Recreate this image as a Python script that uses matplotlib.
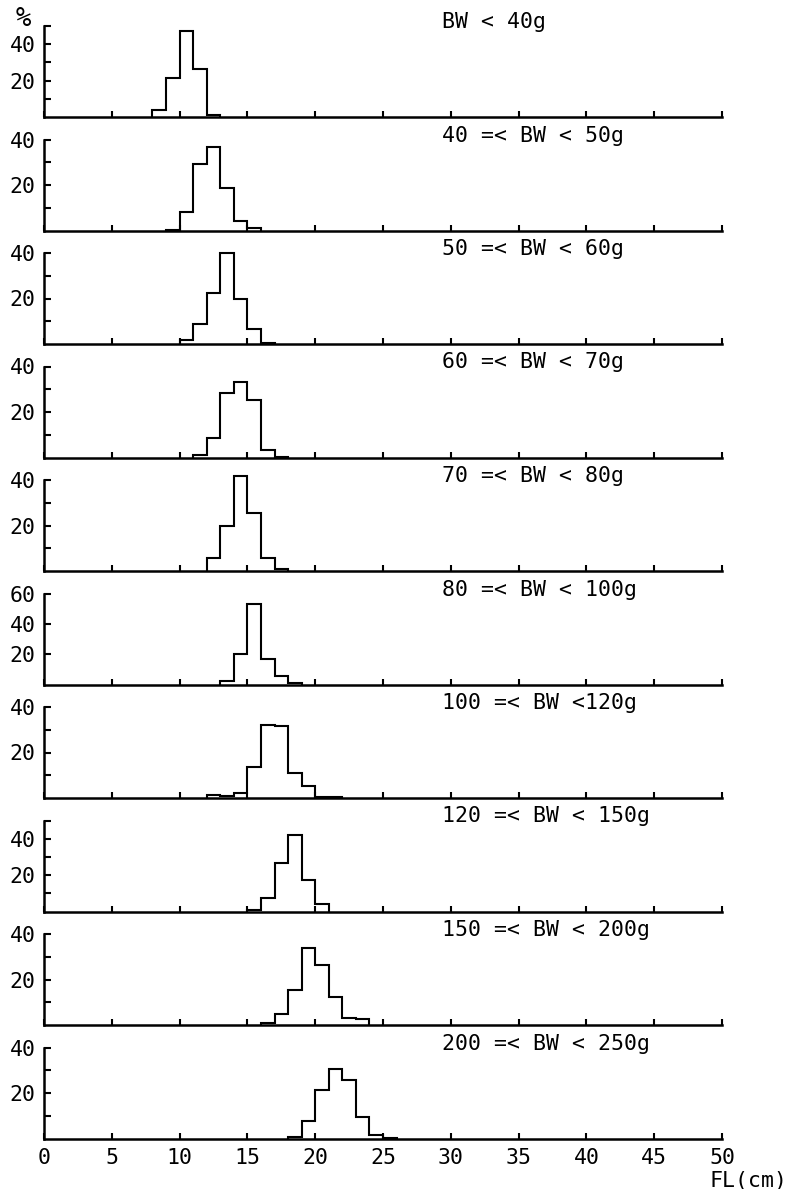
import numpy as np
import matplotlib.pyplot as plt

plt.rcParams['font.family'] = ['DejaVu Sans Mono']

# weight classes, label shown above each panel
titles = ['BW < 40g', '40 =< BW < 50g', '50 =< BW < 60g', '60 =< BW < 70g',
          '70 =< BW < 80g', '80 =< BW < 100g', '100 =< BW <120g',
          '120 =< BW < 150g', '150 =< BW < 200g', '200 =< BW < 250g']

# left edge (cm) of the first non-empty 1 cm class in each panel
first_bin = [8, 9, 10, 11, 12, 13, 12, 15, 16, 18]

# percentage frequency per 1 cm fork-length class
pct_lt40 = [4.1, 21.7, 47.4, 26.3, 0.9]
pct_40_50 = [0.3, 8.3, 29.3, 36.6, 18.7, 4.1, 1.3]
pct_50_60 = [1.9, 8.6, 22.6, 40.0, 20.0, 6.7, 0.6]
pct_60_70 = [1.2, 8.6, 28.2, 33.4, 25.4, 3.1, 0.3]
pct_70_80 = [5.9, 19.9, 41.8, 25.6, 5.9, 0.7]
pct_80_100 = [2.2, 20.0, 53.0, 17.0, 5.7, 1.1]
pct_100_120 = [1.2, 0.7, 2.0, 13.6, 32.1, 31.5, 11.0, 5.4, 0.3, 0.4]
pct_120_150 = [0.6, 7.2, 26.5, 42.2, 17.2, 4.3]
pct_150_200 = [1.0, 4.7, 15.5, 34.0, 26.5, 12.4, 3.2, 2.5]
pct_200_250 = [0.7, 7.5, 21.1, 30.5, 25.5, 9.3, 1.6, 0.4]

series = [pct_lt40, pct_40_50, pct_50_60, pct_60_70, pct_70_80,
          pct_80_100, pct_100_120, pct_120_150, pct_150_200, pct_200_250]

ymax = [50, 40, 40, 40, 40, 60, 40, 50, 40, 40]
xticks = list(range(0, 51, 5))

W, H = 791, 1189
fig = plt.figure(figsize=(W / 100, H / 100), dpi=100)

fs = 15.5
left_px, right_px = 44, 722
for i in range(10):
    bottom_px = 117 + 113.5 * i
    top_px = bottom_px - 91
    ax = fig.add_axes([left_px / W, 1 - bottom_px / H,
                       (right_px - left_px) / W, (bottom_px - top_px) / H])
    vals = np.array(series[i])
    edges = first_bin[i] + np.arange(len(vals) + 1)
    ax.stairs(vals, edges, baseline=0, color='black', linewidth=1.5,
              clip_on=False)

    ax.set_xlim(0, 50)
    ax.set_ylim(0, ymax[i])
    ax.spines['right'].set_color('none')
    ax.spines['top'].set_color('none')
    ax.spines['left'].set_linewidth(1.8)
    ax.spines['bottom'].set_linewidth(1.8)

    ax.set_xticks(xticks)
    if i == 9:
        ax.set_xticklabels([str(t) for t in xticks], fontsize=fs)
    else:
        ax.set_xticklabels([])
    ax.tick_params(axis='x', direction='in', length=4, width=1.5, pad=7)

    if ymax[i] == 60:
        yt = [20, 40, 60]
        yl = ['20', '40', '60']
    else:
        yt = list(range(10, ymax[i] + 1, 10))
        yl = [str(t) if t in (20, 40) else '' for t in yt]
    ax.set_yticks(yt)
    ax.set_yticklabels(yl, fontsize=fs)
    ax.tick_params(axis='y', direction='in', length=5, width=1.5, pad=6)

    ax.text(0.587, 1 + 4 / 91, titles[i], transform=ax.transAxes,
            fontsize=fs, ha='left', va='center')

fig.text(23 / W, 1 - 19 / H, '%', fontsize=fs + 3, ha='center', va='center')
fig.text(788 / W, 1 - 1181 / H, 'FL(cm)', fontsize=fs, ha='right', va='center')

fig.savefig('out.png', dpi=100)
